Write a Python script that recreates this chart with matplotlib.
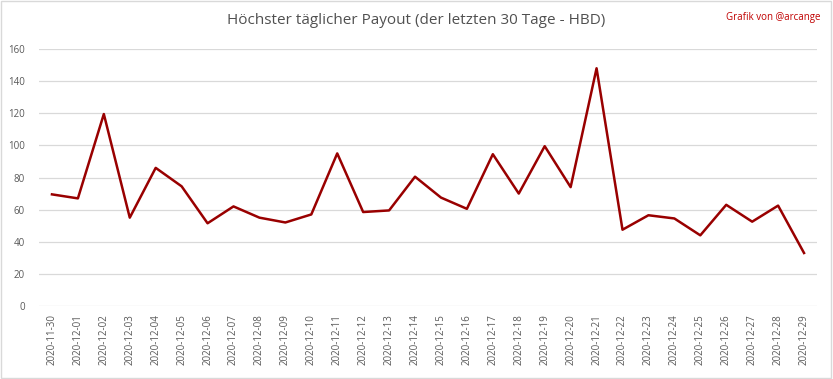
import numpy as np
import matplotlib
matplotlib.use("Agg")
import matplotlib.pyplot as plt
from matplotlib.patches import Rectangle

dates = ["2020-11-30"] + ["2020-12-%02d" % d for d in range(1, 30)]
payout = [69.5, 67, 119.5, 55, 86, 74.5, 51.5, 62, 55, 52,
          57, 95, 58.5, 59.5, 80.5, 67.5, 60.5, 94.5, 70, 99.5,
          74, 148, 47.5, 56.5, 54.5, 44, 63, 52.5, 62.5, 33]
yticks = [0, 20, 40, 60, 80, 100, 120, 140, 160]

plt.rcParams['font.family'] = ['Open Sans', 'DejaVu Sans']

fig = plt.figure(figsize=(8.33, 3.79), dpi=100)
ax = fig.add_axes([39/833, 1 - 306/379, 778/833, 257/379])

x = np.arange(len(dates))
ax.plot(x, payout, color="#990000", lw=1.8)

ax.set_xlim(-0.5, len(dates) - 0.5)
ax.set_ylim(0, 160)
ax.set_yticks(yticks)
ax.set_xticks(x)
ax.set_xticklabels(dates, rotation=90, fontsize=7, color="#595959")
ax.tick_params(axis="y", labelsize=7, labelcolor="#595959", length=0, pad=10)
ax.tick_params(axis="x", length=0, pad=6)
ax.grid(axis="y", color="#d9d9d9", lw=0.9)
ax.set_axisbelow(True)
for s in ax.spines.values():
    s.set_visible(False)

fig.text(0.5, 0.945, "Höchster täglicher Payout (der letzten 30 Tage - HBD)",
         ha="center", va="center", fontsize=11, color="#505050")
fig.text(0.985, 0.955, "Grafik von @arcange", ha="right", va="center",
         fontsize=7, color="#c00000")

fig.patches.append(Rectangle((0.001, 0.002), 0.997, 0.995, transform=fig.transFigure,
                             fill=False, edgecolor="#d9d9d9", lw=1))

fig.savefig("out.png", dpi=100)
